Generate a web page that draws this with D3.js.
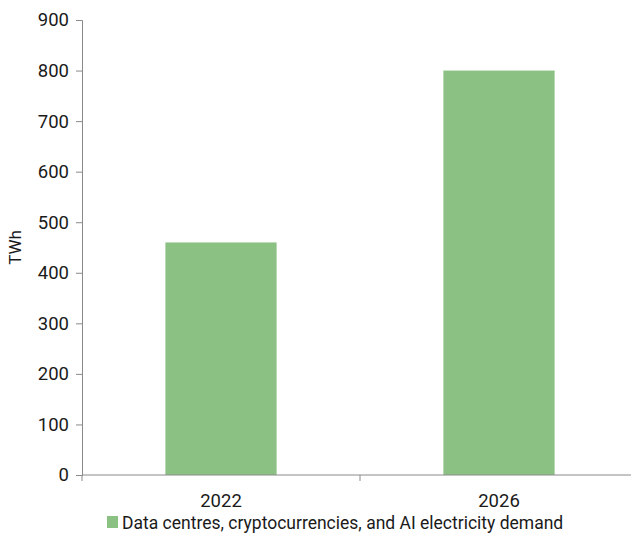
<!DOCTYPE html>
<html>
<head>
<meta charset="utf-8">
<script src="https://cdn.jsdelivr.net/npm/d3@7"></script>
<style>
  html, body { margin: 0; padding: 0; background: #fff; }
  svg text { font-family: Roboto, "Noto Sans", sans-serif; fill: #1a1a1a; }
</style>
</head>
<body>
<svg id="chart" width="631" height="533"></svg>
<script>
// Electricity demand of data centres, crypto and AI (TWh)
const years = ["2022", "2026"];
const demand = [460, 800];
const yTicks = [0, 100, 200, 300, 400, 500, 600, 700, 800, 900];
const seriesName = "Data centres, cryptocurrencies, and AI electricity demand";
const barColor = "#8bc183";
const axisColor = "#8a8a8a";

const svg = d3.select("#chart");
const margin = { left: 82, top: 20, bottom: 58 };
const plotRight = 638;
const height = 533;

const x = d3.scaleBand()
  .domain(years)
  .range([margin.left, plotRight])
  .paddingInner(0)
  .paddingOuter(0);

const y = d3.scaleLinear()
  .domain([0, 900])
  .range([height - margin.bottom, margin.top]);

const barW = x.bandwidth() * 0.4;

// Bars
svg.append("g")
  .selectAll("rect")
  .data(years.map((yr, i) => ({ yr, v: demand[i] })))
  .join("rect")
  .attr("x", d => x(d.yr) + (x.bandwidth() - barW) / 2)
  .attr("width", barW)
  .attr("y", d => y(d.v))
  .attr("height", d => y(0) - y(d.v))
  .attr("fill", barColor);

// Y axis
const yAxis = svg.append("g")
  .attr("transform", `translate(${margin.left},0)`)
  .call(d3.axisLeft(y).tickValues(yTicks).tickSize(6).tickPadding(7));
yAxis.select(".domain").attr("stroke", axisColor);
yAxis.selectAll(".tick line").attr("stroke", axisColor);
yAxis.selectAll(".tick text")
  .attr("font-size", 18.5)
  .attr("font-family", "Roboto, 'Noto Sans', sans-serif")
  .attr("fill", "#1a1a1a");

// X axis with boundary ticks between categories
const xAxisG = svg.append("g")
  .attr("transform", `translate(0,${y(0)})`);
xAxisG.append("line")
  .attr("x1", margin.left).attr("x2", plotRight)
  .attr("stroke", axisColor);
const bounds = years.map(d => x(d)).concat([x(years[years.length - 1]) + x.bandwidth()]);
xAxisG.selectAll("line.bound")
  .data(bounds)
  .join("line")
  .attr("class", "bound")
  .attr("x1", d => d).attr("x2", d => d)
  .attr("y1", 0).attr("y2", 6)
  .attr("stroke", axisColor);
xAxisG.selectAll("text")
  .data(years)
  .join("text")
  .attr("x", d => x(d) + x.bandwidth() / 2)
  .attr("y", 32)
  .attr("text-anchor", "middle")
  .attr("font-size", 18.5)
  .text(d => d);

// Y axis title
svg.append("text")
  .attr("transform", `translate(21,247.5) rotate(-90)`)
  .attr("text-anchor", "middle")
  .attr("font-size", 17)
  .text("TWh");

// Legend
const legend = svg.append("g").attr("transform", "translate(107,516)");
legend.append("rect").attr("x", 0).attr("y", 0).attr("width", 11).attr("height", 12).attr("fill", barColor);
legend.append("text").attr("x", 15).attr("y", 12.5).attr("font-size", 17.5).text(seriesName);
</script>
</body>
</html>
